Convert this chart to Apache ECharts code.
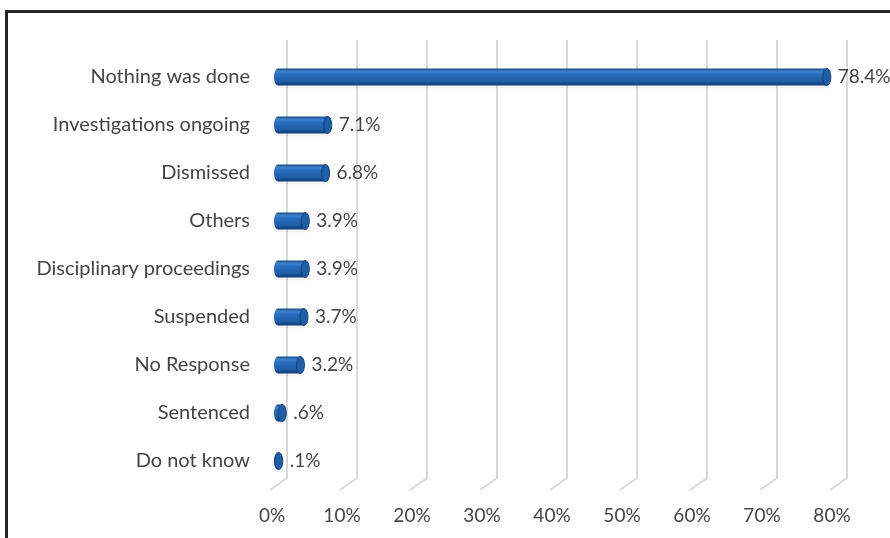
<!DOCTYPE html>
<html>
<head>
<meta charset="utf-8">
<script src="https://cdn.jsdelivr.net/npm/echarts@6/dist/echarts.min.js"></script>
<style>
  html, body { margin: 0; padding: 0; background: #ffffff; }
  #wrap { position: relative; width: 890px; height: 538px; overflow: hidden; }
  #chart { position: absolute; left: 0; top: 0; width: 890px; height: 538px; }
  #frame { position: absolute; left: 5px; top: 10px; width: 900px; height: 540px;
           border-top: 3px solid #262626; border-left: 3px solid #262626; pointer-events: none; }
</style>
</head>
<body>
<div id="wrap">
  <div id="chart"></div>
  <div id="frame"></div>
</div>
<script>
// Responses, top to bottom
const categories = [
  'Nothing was done',
  'Investigations ongoing',
  'Dismissed',
  'Others',
  'Disciplinary proceedings',
  'Suspended',
  'No Response',
  'Sentenced',
  'Do not know'
];
// Share of respondents (%)
const shares = [78.4, 7.1, 6.8, 3.9, 3.9, 3.7, 3.2, 0.6, 0.1];
// Value axis ticks (%)
const ticks = [0, 10, 20, 30, 40, 50, 60, 70, 80];

const FONT = 'Lato, "Open Sans", sans-serif';
const TEXT = '#454545';

function pctLabel(v) {
  return v.toFixed(1).replace(/^0/, '') + '%';
}

const chart = echarts.init(document.getElementById('chart'), null, { renderer: 'canvas' });

// Cylinder body shading
const bodyFill = new echarts.graphic.LinearGradient(0, 0, 0, 1, [
  { offset: 0, color: '#1a4c8a' },
  { offset: 0.18, color: '#3b82d0' },
  { offset: 0.35, color: '#2a6fbf' },
  { offset: 0.75, color: '#1d5ca6' },
  { offset: 1, color: '#123c72' }
]);

const option = {
  animation: false,
  backgroundColor: '#ffffff',
  grid: { left: 278, right: 52, top: 53, bottom: 53, containLabel: false },
  xAxis: {
    type: 'value',
    min: 0,
    max: 80,
    interval: 10,
    axisLine: { show: false },
    axisTick: { show: false },
    splitLine: { show: false },
    axisLabel: {
      formatter: '{value}%',
      color: TEXT,
      fontFamily: FONT,
      fontSize: 19,
      margin: 21,
      padding: [0, 12, 0, 0]
    }
  },
  yAxis: {
    type: 'category',
    inverse: true,
    data: categories,
    axisLine: { show: false },
    axisTick: { show: false },
    splitLine: { show: false },
    axisLabel: {
      color: TEXT,
      fontFamily: FONT,
      fontSize: 20,
      margin: 28
    }
  },
  series: [
    {
      // 3D wall / floor gridlines
      type: 'custom',
      z: 1,
      silent: true,
      data: ticks.map(t => [t, 0]),
      encode: { x: 0, y: 1 },
      renderItem: function (params, api) {
        const cs = params.coordSys;
        const x = api.coord([api.value(0), 0])[0];
        const bottom = cs.y + cs.height;
        return {
          type: 'polyline',
          shape: { points: [[x + 9, cs.y - 13], [x + 9, bottom - 7], [x - 8, bottom + 5]] },
          style: { stroke: '#d9d9d9', lineWidth: 2, fill: null }
        };
      }
    },
    {
      // Cylinder bars with value labels
      type: 'custom',
      z: 5,
      data: shares.map((v, i) => [v, i]),
      encode: { x: 0, y: 1 },
      renderItem: function (params, api) {
        const v = api.value(0);
        const i = api.value(1);
        const start = api.coord([0, i]);
        const end = api.coord([v, i]);
        const h = 17;
        const rx = 4;
        const cy = start[1];
        const x0 = start[0];
        const x1 = end[0];
        return {
          type: 'group',
          children: [
            {
              type: 'ellipse',
              shape: { cx: x0, cy: cy + 3, rx: rx + 2, ry: h / 2 },
              style: { fill: 'rgba(0,0,0,0.05)' }
            },
            {
              type: 'rect',
              shape: { x: x0 + 2, y: cy + h / 2 - 1, width: Math.max(x1 - x0, 0), height: 4 },
              style: { fill: 'rgba(0,0,0,0.05)' }
            },
            {
              type: 'ellipse',
              shape: { cx: x0, cy: cy, rx: rx, ry: h / 2 },
              style: { fill: bodyFill }
            },
            {
              type: 'rect',
              shape: { x: x0, y: cy - h / 2, width: Math.max(x1 - x0, 0), height: h },
              style: { fill: bodyFill }
            },
            {
              type: 'ellipse',
              shape: { cx: x1, cy: cy, rx: rx, ry: h / 2 },
              style: { fill: '#1f5ea8', stroke: '#153f78', lineWidth: 1 }
            },
            {
              type: 'text',
              style: {
                x: x1 + rx + 7,
                y: cy,
                text: pctLabel(v),
                fill: TEXT,
                font: '19px ' + FONT,
                align: 'left',
                verticalAlign: 'middle'
              }
            }
          ]
        };
      }
    }
  ]
};

chart.setOption(option);
</script>
</body>
</html>
